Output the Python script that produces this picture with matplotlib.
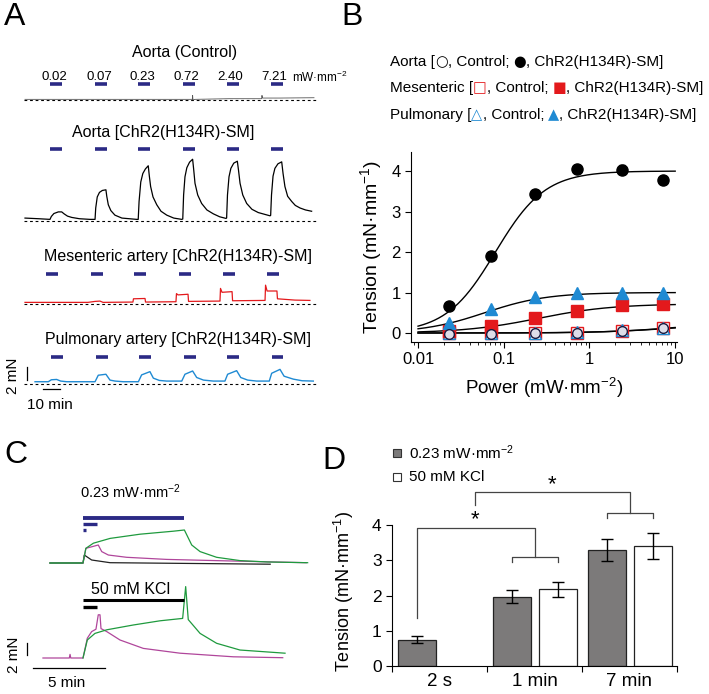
import numpy as np
import matplotlib
matplotlib.use('Agg')
import matplotlib.pyplot as plt
from matplotlib.patches import Rectangle

FAM = ['Liberation Sans', 'DejaVu Sans']
SYM = ['DejaVu Sans']
plt.rcParams['font.family'] = FAM
plt.rcParams['mathtext.fontset'] = 'custom'
plt.rcParams['mathtext.rm'] = 'Liberation Sans'
plt.rcParams['mathtext.default'] = 'regular'
plt.rcParams['axes.linewidth'] = 0.8

W, H = 709, 694
NAVY = '#2b2a85'
RED = '#e3191c'
LBLUE = '#1f8ad3'
GREEN = '#1f9a3e'
MAGENTA = '#b0469b'
GRAY = '#7c7a7a'

# ---------------- data ----------------
# panel A: light pulses (min) and traces (min, mN)
power_labels = ['0.02', '0.07', '0.23', '0.72', '2.40', '7.21']
pulse_on = [14.7, 41.2, 66.6, 92.8, 118.6, 144.5]
pulse_dur = 7.0

ctrl_t = [0, 40, 98.4, 98.6, 98.8, 100, 120, 139.2, 139.4, 139.7, 150, 170]
ctrl_v = [0.1, 0.1, 0.1, 0.7, 0.0, 0.1, 0.2, 0.2, 0.7, 0.3, 0.3, 0.35]

chr2_t = [0, 8, 14.7, 15.5, 17, 19.6, 21.6, 23, 25, 27.5, 32, 38.2,
          41.2, 41.6, 42.5, 43.8, 45.5, 47.6, 48.1, 49, 50.5, 52.9, 57, 65.7,
          66.6, 67.1, 68.1, 69.3, 70.8, 72.5, 73.1, 73.9, 75.3, 77.5, 80, 83.4, 87.5, 92.2,
          92.8, 93.3, 94.1, 95.2, 96.8, 98.6, 99.2, 100, 101.6, 103.9, 107, 110.8, 114.5, 118.2,
          118.6, 119.1, 120, 121.1, 122.8, 124.9, 125.6, 126.5, 128.1, 130.4, 133.5, 137.2, 144.1,
          144.5, 145, 145.9, 147, 148.8, 151, 151.8, 152.9, 154.5, 156.9, 159, 161.8, 165, 168.6]
chr2_v = [0.45, 0.35, 0.25, 0.7, 1.15, 1.4, 1.4, 1.1, 0.75, 0.55, 0.35, 0.25,
          0.25, 2.0, 3.7, 4.4, 4.7, 4.8, 3.8, 2.5, 1.6, 0.9, 0.45, 0.25,
          0.25, 3.0, 6.0, 7.3, 8.0, 8.5, 7.0, 5.3, 3.7, 2.5, 1.5, 0.9, 0.45, 0.25,
          0.3, 4.0, 6.8, 8.2, 9.05, 9.5, 8.0, 5.8, 4.0, 2.7, 1.7, 1.1, 0.65, 0.4,
          0.45, 4.0, 6.8, 8.1, 8.9, 9.2, 7.8, 5.8, 4.0, 2.7, 1.8, 1.3, 0.8,
          0.85, 4.0, 6.9, 8.1, 8.8, 9.1, 7.3, 5.3, 3.8, 3.0, 2.4, 2.0, 1.7, 1.5]

mes_t = [0, 37, 41.2, 44.1, 45.9, 63.5, 63.8, 70.6, 70.9, 88.8, 89.1, 90, 95.9, 96.2, 114.7,
         115, 115.9, 121.8, 122.1, 141.2, 141.5, 142.4, 148.2, 148.5, 158.8, 167.6]
mes_v = [0.25, 0.25, 0.4, 0.45, 0.25, 0.3, 0.8, 0.85, 0.3, 0.35, 1.6, 1.4, 1.5, 0.4, 0.45,
         2.4, 1.8, 1.9, 0.5, 0.55, 2.9, 2.0, 2.0, 0.8, 0.6, 0.55]

pulm_t = [5.9, 13.7, 15.5, 18.6, 21, 24.5, 41.2, 43.1, 47.6, 50, 53, 57.8, 66.7, 68.6, 73.5,
          75.5, 79, 83.3, 92.2, 94.1, 98.6, 101, 105, 110.8, 117.6, 119.2, 124.5, 126.9, 131,
          136.3, 143.7, 145.1, 150, 152.4, 157.8, 163, 169.6]
pulm_v = [0.35, 0.35, 0.65, 0.7, 0.45, 0.35, 0.35, 1.35, 1.5, 0.6, 0.45, 0.35, 0.35, 1.4, 1.9,
          0.9, 0.55, 0.45, 0.45, 1.5, 2.0, 1.0, 0.6, 0.45, 0.45, 1.5, 2.05, 1.0, 0.6,
          0.45, 0.45, 1.65, 2.25, 1.2, 0.75, 0.5, 0.45]

# panel B: concentration-response (mN/mm)
power = [0.023, 0.071, 0.23, 0.72, 2.40, 7.21]
aorta_chr2 = [0.67, 1.90, 3.43, 4.05, 4.03, 3.78]
aorta_err = [0.08, 0.09, 0.11, 0.11, 0.11, 0.1]
mes_chr2 = [0.04, 0.17, 0.36, 0.55, 0.68, 0.71]
pulm_chr2 = [0.25, 0.59, 0.89, 0.98, 1.0, 0.99]
aorta_ctrl = [-0.02, -0.02, -0.01, 0.0, 0.05, 0.12]
mes_ctrl = [-0.01, -0.01, 0.0, 0.01, 0.05, 0.12]
pulm_ctrl = [0.0, 0.0, 0.0, 0.02, 0.08, 0.13]
# Hill fits: top, EC50, n
fit_aorta = (4.0, 0.08, 1.5)
fit_pulm = (1.0, 0.06, 1.2)
fit_mes = (0.72, 0.25, 1.0)
fit_ctrl = [(0.25, 10.0, 1.0), (0.3, 12.0, 1.0)]

# panel C: traces (min from light/KCl onset, mN)
green_top_t = [-2.3, 0, 0.2, 0.72, 1.88, 3.96, 6.27, 7.04, 7.55, 8.13, 9.28, 10.9, 12.8, 15.6]
green_top_v = [0, 0, 2.45, 3.3, 4.1, 4.8, 5.3, 5.5, 3.0, 1.9, 0.95, 0.4, 0.17, 0.05]
mag_top_t = [0, 0.2, 0.6, 1.06, 1.3, 1.76, 3.03, 5.8, 10.4, 15.5]
mag_top_v = [0, 2.45, 2.7, 3.0, 1.9, 1.33, 0.95, 0.6, 0.33, 0.05]
blk_top_t = [-2.3, 0, 0.09, 0.6, 1.88, 13.0]
blk_top_v = [0, 0, 1.33, 0.5, 0.05, -0.2]
mag_bot_t = [-2.78, -0.95, -0.9, -0.85, 0, 0.3, 0.6, 0.9, 1.06, 1.18, 1.25, 1.65, 2.57, 4.19,
             6.74, 10.44, 13.87]
mag_bot_v = [0, 0, 0.6, 0, 0, 3.3, 4.4, 4.8, 7.2, 7.2, 4.9, 4.4, 3.0, 1.6, 0.8, 0.2, 0.05]
green_bot_t = [0, 0.3, 0.83, 1.65, 3.49, 5.35, 6.92, 7.13, 7.31, 8.13, 9.28, 10.9, 14.03]
green_bot_v = [0, 3.0, 4.1, 4.7, 5.5, 6.2, 6.6, 11.9, 6.4, 4.1, 2.45, 1.33, 0.8]
stim_durs = [7.0, 1.0, 0.033]  # 7 min, 1 min, 2 s

# panel D: bars
groups = ['2 s', '1 min', '7 min']
light_vals = [0.75, 1.97, 3.30]
light_err = [0.09, 0.18, 0.31]
kcl_vals = [np.nan, 2.18, 3.40]
kcl_err = [0, 0.21, 0.37]

# ---------------- helpers ----------------
fig = plt.figure(figsize=(W / 100, H / 100), dpi=100)


def ax_px(x0, y0, x1, y1):
    return fig.add_axes([x0 / W, 1 - y1 / H, (x1 - x0) / W, (y1 - y0) / H])


def ftxt(x, y, s, **kw):
    kw.setdefault('va', 'center')
    return fig.text(x / W, 1 - y / H, s, **kw)


def trace_ax(top, bot, base, xpx0=25, ppm=1.7, ppn=6.5, left=5, right=325):
    a = ax_px(left, top, right, bot)
    a.set_xlim((left - xpx0) / ppm, (right - xpx0) / ppm)
    a.set_ylim((base - bot) / ppn, (base - top) / ppn)
    a.axis('off')
    return a


for x, y, s in [(4, 17, 'A'), (341, 17, 'B'), (4, 455, 'C'), (322, 461, 'D')]:
    ftxt(x, y, s, fontsize=23, ha='left')

# ---------------- panel A ----------------
ftxt(185, 52, 'Aorta (Control)', fontsize=11.5, ha='center')
ftxt(163, 133, 'Aorta [ChR2(H134R)-SM]', fontsize=11.5, ha='center')
ftxt(178, 257, 'Mesenteric artery [ChR2(H134R)-SM]', fontsize=11.5, ha='center')
ftxt(178, 340, 'Pulmonary artery [ChR2(H134R)-SM]', fontsize=11.5, ha='center')

rows = [
    (trace_ax(60, 110, 100), ctrl_t, ctrl_v, '#555555', 2.46, 0.0, 0.6),
    (trace_ax(140, 232, 221), chr2_t, chr2_v, 'black', 11.1, 0.0, 0.9),
    (trace_ax(265, 312, 304), mes_t, mes_v, RED, 4.6, -2.2, 0.9),
    (trace_ax(350, 412, 384), pulm_t, pulm_v, LBLUE, 4.15, 0.5, 1.0),
]
for a, t, v, col, bar_y, shift, lw in rows:
    a.axhline(0, xmin=0.06, xmax=0.975, color='black', lw=0.8, ls=(0, (2.5, 2.5)))
    a.plot(t, v, color=col, lw=lw)
    for on in pulse_on:
        a.plot([on + shift, on + shift + pulse_dur], [bar_y, bar_y], color=NAVY, lw=2.6,
               solid_capstyle='butt')

ax_c0 = rows[0][0]
for on, lab in zip(pulse_on, power_labels):
    ax_c0.text(on + pulse_dur / 2 - 1.2, 3.55, lab, ha='center', va='center', fontsize=9.5)
ax_c0.text(pulse_on[-1] + pulse_dur + 5.5, 3.55, 'mW·mm$^{-2}$', ha='left', va='center',
           fontsize=8.5)

ax_p = rows[3][0]
ax_p.plot([1.2, 1.2], [0.6, 2.6], color='black', lw=0.9, clip_on=False)
ax_p.plot([10.6, 20.6], [-0.8, -0.8], color='black', lw=0.9, clip_on=False)
ftxt(13, 376, '2 mN', fontsize=11, rotation=90, ha='center')
ftxt(50, 405, '10 min', fontsize=11, ha='center')

# ---------------- panel B ----------------
renderer = fig.canvas.get_renderer()


def piece_w(s, size, fam):
    t1 = fig.text(0, 0, '|' + s + '|', fontsize=size, family=fam)
    t2 = fig.text(0, 0, '||', fontsize=size, family=fam)
    w = t1.get_window_extent(renderer=renderer).width - t2.get_window_extent(renderer=renderer).width
    t1.remove()
    t2.remove()
    return w


def rich_line(x, y, pieces, size=11):
    for s, c in pieces:
        sym = len(s) == 1
        fam = SYM if sym else FAM
        sz = size * 0.95 if sym else size
        ftxt(x, y, s, fontsize=sz, color=c, ha='left', family=fam)
        x += piece_w(s, sz, fam)


rich_line(390, 62, [('Aorta [', 'k'), ('○', 'k'), (', Control; ', 'k'), ('●', 'k'),
                    (', ChR2(H134R)-SM]', 'k')])
rich_line(390, 88, [('Mesenteric [', 'k'), ('□', RED), (', Control; ', 'k'), ('■', RED),
                    (', ChR2(H134R)-SM]', 'k')])
rich_line(390, 115, [('Pulmonary [', 'k'), ('△', LBLUE), (', Control; ', 'k'), ('▲', LBLUE),
                     (', ChR2(H134R)-SM]', 'k')])

ax_b = ax_px(411, 152, 677, 342)
ax_b.set_xscale('log')
ax_b.set_xlim(0.00828, 10.5)
ax_b.set_ylim(-0.222, 4.47)
for s in ['top', 'right']:
    ax_b.spines[s].set_visible(False)
xf = np.logspace(-2, 1, 200)


def hill(x, p):
    top, ec, n = p
    return top * x ** n / (x ** n + ec ** n)


for p in [fit_aorta, fit_pulm, fit_mes] + fit_ctrl:
    ax_b.plot(xf, hill(xf, p), color='black', lw=1.0, zorder=2)

ax_b.plot(power, mes_ctrl, 's', ms=8, mfc='white', mec=RED, mew=1.0, zorder=3)
ax_b.plot(power, pulm_ctrl, '^', ms=8, mfc='white', mec=LBLUE, mew=1.0, zorder=3)
ax_b.plot(power, aorta_ctrl, 'o', ms=7, mfc='#dddde8', mec='#1a1a40', mew=1.0, zorder=4)
ax_b.plot(power, mes_chr2, 's', ms=8, color=RED, zorder=3)
ax_b.plot(power, pulm_chr2, '^', ms=8.5, color=LBLUE, zorder=3)
ax_b.errorbar(power, aorta_chr2, yerr=aorta_err, fmt='o', ms=8, color='black',
              capsize=2.5, elinewidth=0.8, zorder=4)
ax_b.set_yticks([0, 1, 2, 3, 4])
ax_b.set_xticks([0.01, 0.1, 1, 10])
ax_b.set_xticklabels(['0.01', '0.1', '1', '10'])
ax_b.tick_params(direction='out', length=4, width=0.8, labelsize=12)
ax_b.tick_params(which='minor', direction='out', length=2.5, width=0.6)
ax_b.set_xlabel('Power (mW·mm$^{-2}$)', fontsize=13.5, labelpad=6)
ax_b.set_ylabel('Tension (mN·mm$^{-1}$)', fontsize=14, labelpad=5)

# ---------------- panel C ----------------
ax_ct = ax_px(5, 480, 330, 575)
ax_ct.set_xlim((5 - 83) / 14.4, (330 - 83) / 14.4)
ax_ct.set_ylim((563 - 575) / 6, (563 - 480) / 6)
ax_ct.axis('off')
ax_cb = ax_px(5, 575, 330, 694)
ax_cb.set_xlim((5 - 83) / 14.4, (330 - 83) / 14.4)
ax_cb.set_ylim((658 - 694) / 6, (658 - 575) / 6)
ax_cb.axis('off')

ax_ct.plot(blk_top_t, blk_top_v, color='#222222', lw=0.9)
ax_ct.plot(mag_top_t, mag_top_v, color=MAGENTA, lw=0.9)
ax_ct.plot(green_top_t, green_top_v, color=GREEN, lw=0.9)
for d, yb, lw in zip(stim_durs, [7.5, 6.5, 5.5], [2.8, 2.4, 2.4]):
    ax_ct.plot([0, max(d, 0.2)], [yb, yb], color=NAVY, lw=lw, solid_capstyle='butt')
ftxt(80, 492, '0.23 mW·mm$^{-2}$', fontsize=10.5, ha='left')

ax_cb.plot(mag_bot_t, mag_bot_v, color=MAGENTA, lw=0.9)
ax_cb.plot(green_bot_t, green_bot_v, color=GREEN, lw=0.9)
for d, yb, lw in zip(stim_durs[:2], [9.67, 8.5], [2.2, 2.4]):
    ax_cb.plot([0, d], [yb, yb], color='black', lw=lw, solid_capstyle='butt')
ftxt(131, 590, '50 mM KCl', fontsize=11.5, ha='center')
ax_cb.plot([-3.9, -3.9], [0.5, 2.5], color='black', lw=0.9, clip_on=False)
ax_cb.plot([-3.47, 1.53], [-1.67, -1.67], color='black', lw=0.9, clip_on=False)
ftxt(14, 655, '2 mN', fontsize=11, rotation=90, ha='center')
ftxt(67, 683, '5 min', fontsize=11, ha='center')

# ---------------- panel D ----------------
ax_d = ax_px(392, 470, 677, 666)
ax_d.set_xlim(-0.5, 2.5)
ax_d.set_ylim(0, (666 - 470) / 35.2)
for s in ['top', 'right']:
    ax_d.spines[s].set_visible(False)
ax_d.spines['left'].set_bounds(0, 4)
xg = np.arange(len(groups))
ax_d.bar(xg - 0.24, light_vals, 0.4, color=GRAY, edgecolor='#222222', lw=0.9,
         yerr=light_err, capsize=4, error_kw=dict(elinewidth=1.0, capthick=1.0))
ax_d.bar(xg + 0.25, kcl_vals, 0.4, color='white', edgecolor='#222222', lw=0.9,
         yerr=kcl_err, capsize=4, error_kw=dict(elinewidth=1.0, capthick=1.0))
ax_d.set_yticks([0, 1, 2, 3, 4])
ax_d.set_xticks([-0.5, 0.5, 1.5, 2.5])
ax_d.set_xticklabels([])
ax_d.set_xticks(xg, minor=True)
ax_d.set_xticklabels(groups, minor=True)
ax_d.tick_params(axis='x', which='minor', length=0, labelsize=13.5, pad=5)
ax_d.tick_params(axis='x', which='major', direction='out', length=4, width=0.8)
ax_d.tick_params(axis='y', direction='out', length=4, width=0.8, labelsize=12.5)
ax_d.set_ylabel('Tension (mN·mm$^{-1}$)', fontsize=13)
ax_d.yaxis.set_label_coords((356 - 392) / 285, (666 - 592) / 196)

bk = dict(color='#444444', lw=0.9, clip_on=False)
# 2 s vs 1 min
ax_d.plot([-0.24, -0.24, 1.0, 1.0], [1.36, 3.92, 3.92, 3.1], **bk)
ax_d.plot([0.76, 0.76, 1.25, 1.25], [2.95, 3.1, 3.1, 2.95], **bk)
ax_d.text(0.37, 4.15, '*', ha='center', va='center', fontsize=16)
# 1 min vs 7 min
ax_d.plot([0.37, 0.37, 2.0, 2.0], [4.57, 4.94, 4.94, 4.35], **bk)
ax_d.plot([1.76, 1.76, 2.25, 2.25], [4.2, 4.35, 4.35, 4.2], **bk)
ax_d.text(1.18, 5.15, '*', ha='center', va='center', fontsize=16)

fig.add_artist(Rectangle((393 / W, 1 - 457 / H), 8 / W, 8 / H, transform=fig.transFigure,
                         facecolor=GRAY, edgecolor='#333333', lw=0.8))
fig.add_artist(Rectangle((393 / W, 1 - 481 / H), 8 / W, 8 / H, transform=fig.transFigure,
                         facecolor='white', edgecolor='#333333', lw=0.8))
ftxt(409, 453, '0.23 mW·mm$^{-2}$', fontsize=11, ha='left')
ftxt(409, 477, '50 mM KCl', fontsize=11, ha='left')

fig.savefig('out.png', dpi=100)
